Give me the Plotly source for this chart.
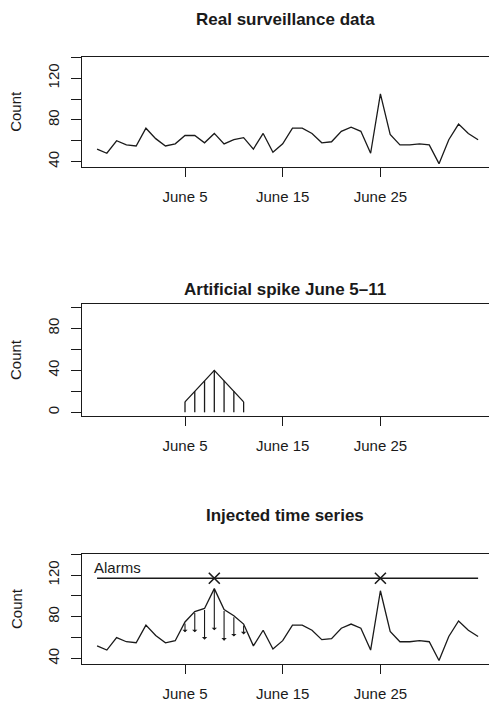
import pandas as pd
import plotly.graph_objects as go

# ---------------- data ----------------
start_date = "2009-05-27"
real_counts = [52, 48, 60, 56, 55, 72, 62, 55, 57, 65,
               65, 58, 67, 57, 61, 63, 52, 67, 49, 57,
               72, 72, 67, 58, 59, 69, 73, 69, 48, 105,
               66, 56, 56, 57, 56, 38, 61, 76, 67, 61]
spike_dates = ["2009-06-05", "2009-06-06", "2009-06-07", "2009-06-08",
               "2009-06-09", "2009-06-10", "2009-06-11"]
spike_values = [10, 20, 30, 40, 30, 20, 10]
alarm_dates = ["2009-06-08", "2009-06-25"]
alarm_level = 117
tick_dates = ["2009-06-05", "2009-06-15", "2009-06-25"]
tick_labels = ["June 5", "June 15", "June 25"]
titles = ["Real surveillance data", "Artificial spike June 5\u201311", "Injected time series"]

dates = pd.date_range(start_date, periods=len(real_counts), freq="D")
spike_idx = pd.to_datetime(spike_dates)
real = pd.Series(real_counts, index=dates)
spike = pd.Series(spike_values, index=spike_idx)
injected = real.add(spike, fill_value=0)

# ---------------- layout helpers ----------------
W, H = 489, 702
FONT = "Liberation Sans, Arial, Helvetica, sans-serif"
INK = "#1a1a1a"

def ydom(top_px, bot_px):
    return [1 - bot_px / H, 1 - top_px / H]

panels = [(56.7, 167.0), (304.0, 416.0), (554.0, 664.0)]
x_left_px = 82.0
june5 = pd.Timestamp("2009-06-05")
px_per_day = 9.77
x0 = june5 - pd.Timedelta(days=(185 - x_left_px) / px_per_day)
x1 = june5 + pd.Timedelta(days=(W - 185) / px_per_day)

fig = go.Figure()
line_style = dict(color=INK, width=1.3)

# panel 1
fig.add_trace(go.Scatter(x=real.index, y=real.values, mode="lines", line=line_style,
                         xaxis="x", yaxis="y", showlegend=False, hoverinfo="skip"))

# panel 2: spike polygon and verticals
fig.add_trace(go.Scatter(x=spike.index, y=spike.values, mode="lines", line=line_style,
                         xaxis="x2", yaxis="y2", showlegend=False, hoverinfo="skip"))
vx, vy = [], []
for d, v in spike.items():
    vx += [d, d, None]
    vy += [0, v, None]
fig.add_trace(go.Scatter(x=vx, y=vy, mode="lines", line=line_style,
                         xaxis="x2", yaxis="y2", showlegend=False, hoverinfo="skip"))

# panel 3: injected series
fig.add_trace(go.Scatter(x=injected.index, y=injected.values, mode="lines", line=line_style,
                         xaxis="x3", yaxis="y3", showlegend=False, hoverinfo="skip"))
# alarm line
fig.add_trace(go.Scatter(x=[dates[0], dates[-1]], y=[alarm_level, alarm_level], mode="lines",
                         line=line_style, xaxis="x3", yaxis="y3", showlegend=False, hoverinfo="skip"))
fig.add_trace(go.Scatter(x=pd.to_datetime(alarm_dates), y=[alarm_level] * len(alarm_dates),
                         mode="markers",
                         marker=dict(symbol="x-thin", size=11, line=dict(color=INK, width=1.6)),
                         xaxis="x3", yaxis="y3", showlegend=False, hoverinfo="skip"))

annotations = []
# arrows from injected to real values
for d in spike.index:
    annotations.append(dict(x=d, y=real[d], ax=d, ay=injected[d], xref="x3", yref="y3",
                            axref="x3", ayref="y3", showarrow=True, arrowhead=1,
                            arrowsize=0.8, arrowwidth=1.1, arrowcolor=INK, text=""))
annotations.append(dict(x=dates[0] - pd.Timedelta(hours=13), y=127, xref="x3", yref="y3",
                        text="Alarms", showarrow=False, xanchor="left", yanchor="middle",
                        font=dict(family=FONT, size=15, color=INK)))

# titles and Count labels
title_y = [20, 290, 515]
for (top, bot), t, ty in zip(panels, titles, title_y):
    annotations.append(dict(x=285 / W, y=1 - ty / H, xref="paper", yref="paper", text="<b>%s</b>" % t,
                            showarrow=False, xanchor="center", yanchor="middle",
                            font=dict(family=FONT, size=17, color=INK)))
    annotations.append(dict(x=16 / W, y=1 - (top + bot) / 2 / H, xref="paper", yref="paper",
                            text="Count", textangle=-90, showarrow=False, xanchor="center",
                            yanchor="middle", font=dict(family=FONT, size=15, color=INK)))

xcommon = dict(type="date", range=[x0, x1], domain=[x_left_px / W, 1],
               tickvals=pd.to_datetime(tick_dates), ticktext=tick_labels,
               showline=True, mirror=True, linecolor=INK, linewidth=1.3,
               ticks="outside", ticklen=9, tickwidth=1.3, tickcolor=INK,
               ticklabelstandoff=7, showgrid=False, zeroline=False, automargin=False,
               tickfont=dict(family=FONT, size=15, color=INK), fixedrange=True)
ycommon = dict(showline=True, mirror=False, linecolor=INK, linewidth=1.3,
               ticks="outside", ticklen=10, tickwidth=1.3, tickcolor=INK,
               tickangle=-90, showgrid=False, zeroline=False, ticklabelstandoff=6,
               automargin=False,
               tickfont=dict(family=FONT, size=15, color=INK), fixedrange=True)

count_ticks = [40, 60, 80, 100, 120, 140]
count_text = ["40", "", "80", "", "120", ""]
spike_ticks = [0, 20, 40, 60, 80, 100]
spike_text = ["0", "", "40", "", "80", ""]

fig.update_layout(
    width=W, height=H, margin=dict(l=0, r=0, t=0, b=0, autoexpand=False),
    paper_bgcolor="white", plot_bgcolor="white", showlegend=False,
    xaxis=dict(xcommon, anchor="y"),
    xaxis2=dict(xcommon, anchor="y2"),
    xaxis3=dict(xcommon, anchor="y3"),
    yaxis=dict(ycommon, domain=ydom(*panels[0]), range=[34.8, 140.6], anchor="x",
               tickvals=count_ticks, ticktext=count_text),
    yaxis2=dict(ycommon, domain=ydom(*panels[1]), range=[-3.5, 103.2], anchor="x2",
                tickvals=spike_ticks, ticktext=spike_text),
    yaxis3=dict(ycommon, domain=ydom(*panels[2]), range=[34.6, 140.3], anchor="x3",
                tickvals=count_ticks, ticktext=count_text),
    annotations=annotations,
)

fig.write_html("out.html", config={"displayModeBar": False},
               post_script="document.body.style.margin='0';document.body.style.padding='0';"
                           "document.body.style.overflow='hidden';")
